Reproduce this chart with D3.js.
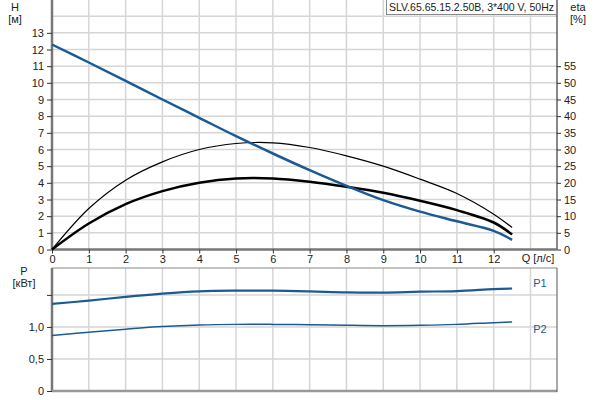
<!DOCTYPE html>
<html><head><meta charset="utf-8">
<script src="https://cdn.jsdelivr.net/npm/d3@7"></script>
<style>body{margin:0;background:#fff}svg{display:block;font-family:"Liberation Sans",Arial,sans-serif}</style>
</head><body><svg id="c" width="600" height="400"></svg>
<script>
const flow = [0,1,2,3,4,5,6,7,8,9,10,11,12,12.5];
const head = [12.3,11.22,10.12,9.0,7.9,6.8,5.76,4.76,3.82,2.96,2.27,1.69,1.12,0.58];
const etaThin = [0,12.3,20.8,26.3,30,31.8,32,30.6,28.1,25,21.1,16.8,10.6,6.6];
const etaThick = [0,7.8,13.6,17.5,20,21.3,21.3,20.3,18.8,17,14.6,11.8,8.1,4.5];
const p1 = [1.36,1.41,1.47,1.52,1.556,1.567,1.567,1.556,1.54,1.537,1.55,1.56,1.59,1.6];
const p2 = [0.865,0.917,0.964,1.005,1.03,1.04,1.04,1.036,1.026,1.02,1.026,1.04,1.067,1.078];
const qTicks = [0,1,2,3,4,5,6,7,8,9,10,11,12];
const hTicks = [0,1,2,3,4,5,6,7,8,9,10,11,12,13];
const etaTicks = [0,5,10,15,20,25,30,35,40,45,50,55];
const pTicks = [0,0.5,1.0,1.5];
const pTickLabels = ["0","0,5","1,0",""];
const title = "SLV.65.65.15.2.50B, 3*400 V, 50Hz";

const svg = d3.select("#c");
const L = 52, R = 557;
const x = d3.scaleLinear().domain([0,13.72]).range([L,R]);
const yH = d3.scaleLinear().domain([0,15]).range([249.5,-0.5]);
const yE = d3.scaleLinear().domain([0,75]).range([249.5,-0.5]);
const yP = d3.scaleLinear().domain([0,1.92]).range([391,268]);
const grid = "#d6d6d6", txt = "#222", blue = "#1c5a94";
const fs = 11;

const gT = svg.append("g");
gT.selectAll(".vg").data(d3.range(1,14)).join("line")
  .attr("x1",d=>x(d)).attr("x2",d=>x(d)).attr("y1",0).attr("y2",249.5)
  .attr("stroke",grid).attr("stroke-width",1.5);
gT.selectAll(".hg").data(d3.range(1,15)).join("line")
  .attr("x1",L).attr("x2",R).attr("y1",d=>yH(d)).attr("y2",d=>yH(d))
  .attr("stroke",grid).attr("stroke-width",1.5);

const gB = svg.append("g");
gB.selectAll(".vg").data(d3.range(1,14)).join("line")
  .attr("x1",d=>x(d)).attr("x2",d=>x(d)).attr("y1",268).attr("y2",391)
  .attr("stroke",grid).attr("stroke-width",1.5);
gB.selectAll(".hg").data([0.5,1.0,1.5]).join("line")
  .attr("x1",L).attr("x2",R).attr("y1",d=>yP(d)).attr("y2",d=>yP(d))
  .attr("stroke",grid).attr("stroke-width",1.5);

const axL = svg.append("g").attr("transform",`translate(${L},0)`)
  .call(d3.axisLeft(yH).tickValues(hTicks).tickSize(5).tickPadding(3).tickFormat(d3.format("d")));
const axR = svg.append("g").attr("transform",`translate(${R},0)`)
  .call(d3.axisRight(yE).tickValues(etaTicks).tickSize(4).tickPadding(3).tickFormat(d3.format("d")));
const axX = svg.append("g").attr("transform",`translate(0,249.5)`)
  .call(d3.axisBottom(x).tickValues(qTicks).tickSize(4).tickPadding(2).tickFormat(d3.format("d")));
const axP = svg.append("g").attr("transform",`translate(${L},0)`)
  .call(d3.axisLeft(yP).tickValues(pTicks).tickSize(5).tickPadding(3).tickFormat((d,i)=>pTickLabels[i]));
[axL,axR,axX,axP].forEach(a=>{
  a.selectAll("text").attr("font-size",fs).attr("fill",txt).attr("font-family","Liberation Sans, Arial, sans-serif");
  a.selectAll("line").attr("stroke","#333");
});
axL.select(".domain").attr("d",`M0,0V249.5`).attr("stroke","#777").attr("stroke-width",2.5);
axR.select(".domain").attr("d",`M0,0V249.5`).attr("stroke","#111").attr("stroke-width",1);
axX.select(".domain").attr("d",`M${L},0H${R}`).attr("stroke","#777").attr("stroke-width",2.5);
axP.select(".domain").attr("d",`M0,268V391`).attr("stroke","#777").attr("stroke-width",2.5);
svg.append("line").attr("x1",L).attr("x2",R).attr("y1",391).attr("y2",391).attr("stroke","#999").attr("stroke-width",2.5);
svg.append("line").attr("x1",L).attr("x2",R).attr("y1",268).attr("y2",268).attr("stroke","#888").attr("stroke-width",1);
svg.append("line").attr("x1",R).attr("x2",R).attr("y1",268).attr("y2",392).attr("stroke","#555").attr("stroke-width",1);

const idx = d3.range(flow.length);
const mk = (ys, arr) => d3.line().x(i=>x(flow[i])).y(i=>ys(arr[i])).curve(d3.curveCatmullRom.alpha(0.5));
svg.append("path").attr("d",mk(yE,etaThin)(idx)).attr("fill","none").attr("stroke","#000").attr("stroke-width",1.2);
svg.append("path").attr("d",mk(yE,etaThick)(idx)).attr("fill","none").attr("stroke","#000").attr("stroke-width",2.5);
svg.append("path").attr("d",mk(yH,head)(idx)).attr("fill","none").attr("stroke",blue).attr("stroke-width",2.5);
svg.append("path").attr("d",mk(yP,p1)(idx)).attr("fill","none").attr("stroke",blue).attr("stroke-width",2.2);
svg.append("path").attr("d",mk(yP,p2)(idx)).attr("fill","none").attr("stroke",blue).attr("stroke-width",1.5);

const t = (s,xx,yy,anchor="middle",col=txt)=>svg.append("text").attr("x",xx).attr("y",yy)
  .attr("text-anchor",anchor).attr("font-size",fs).attr("fill",col).text(s);
t("H",15,11); t("[м]",15,23);
t("eta",578,11); t("[%]",578,23);
t("Q [л/с]",538,262);
t("P",24,275); t("[кВт]",24,287);
t("P1",540,287,"middle",blue); t("P2",540,333,"middle",blue);

const tb = svg.append("g");
tb.append("rect").attr("x",386.5).attr("y",-1).attr("width",170).attr("height",15.5)
  .attr("fill","#fff").attr("stroke","#888");
tb.append("text").attr("x",389).attr("y",11).attr("font-size",fs).attr("fill",txt)
  .attr("textLength",165).attr("lengthAdjust","spacingAndGlyphs").text(title);
</script></body></html>
